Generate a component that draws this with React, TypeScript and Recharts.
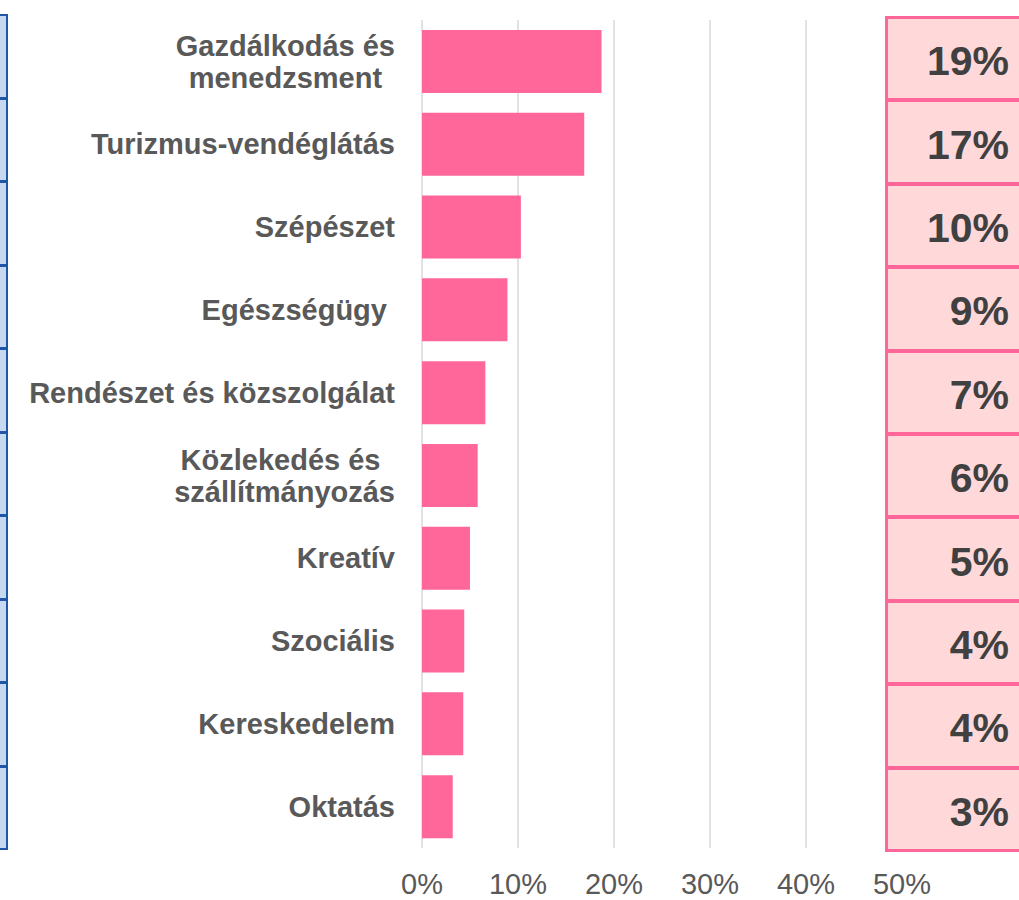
import { BarChart, Bar, XAxis, YAxis, CartesianGrid } from "recharts";

const categories = [
  "Gazdálkodás és\nmenedzsment",
  "Turizmus-vendéglátás",
  "Szépészet",
  "Egészségügy ",
  "Rendészet és közszolgálat",
  "Közlekedés és \nszállítmányozás",
  "Kreatív",
  "Szociális",
  "Kereskedelem",
  "Oktatás",
];
const shares = [0.187, 0.169, 0.103, 0.089, 0.066, 0.058, 0.05, 0.044, 0.043, 0.032];
const shareLabels = ["19%", "17%", "10%", "9%", "7%", "6%", "5%", "4%", "4%", "3%"];
const xTicks = [0, 0.1, 0.2, 0.3, 0.4, 0.5];

const chartData = categories.map((name, i) => ({ name, value: shares[i] }));

const LABEL_SIZE = 29;
const LABEL_FONT = `bold ${LABEL_SIZE}px Arial`;
let ctx: CanvasRenderingContext2D | null = null;
const measure = (s: string) => {
  if (!ctx) ctx = document.createElement("canvas").getContext("2d");
  if (!ctx) return s.length * 16;
  ctx.font = LABEL_FONT;
  return ctx.measureText(s).width;
};

const CategoryTick = ({ x, y, payload }: any) => {
  const lines: string[] = String(payload.value).split("\n");
  const maxW = Math.max(...lines.map(measure));
  const cx = x - 19 - maxW / 2;
  const lh = 32;
  const start = y - ((lines.length - 1) * lh) / 2;
  return (
    <text
      textAnchor="middle"
      fill="#595959"
      fontFamily="Arial"
      fontWeight="bold"
      fontSize={LABEL_SIZE}
      style={{ whiteSpace: "pre" }}
    >
      {lines.map((l, i) => (
        <tspan key={i} x={cx} y={start + i * lh} dy="0.35em">
          {l}
        </tspan>
      ))}
    </text>
  );
};

const PercentTick = ({ x, y, payload }: any) => (
  <text x={x} y={y} dy={38} textAnchor="middle" fill="#595959" fontFamily="Arial" fontSize={29}>
    {`${Math.round(payload.value * 100)}%`}
  </text>
);

const PLOT_TOP = 20;
const PLOT_BOTTOM = 848;

export default function App() {
  const rowH = (850 - 16) / categories.length;
  const leftRowH = (849 - 14) / categories.length;
  return (
    <div style={{ position: "absolute", left: 0, top: 0, width: 1019, height: 900, overflow: "hidden", background: "#fff" }}>
      {/* left-hand table edge */}
      {categories.map((c, i) => (
        <div
          key={"l" + c}
          style={{
            position: "absolute",
            left: -20,
            top: 14 + i * leftRowH,
            width: 28,
            height: leftRowH + 1,
            boxSizing: "border-box",
            background: "#C6D9F1",
            border: "2.5px solid #1F56A8",
          }}
        />
      ))}
      <div style={{ position: "absolute", left: 0, top: 0 }}>
        <BarChart
          width={1019}
          height={900}
          layout="vertical"
          data={chartData}
          margin={{ top: PLOT_TOP, right: 117, bottom: 0, left: 0 }}
          barCategoryGap="12%"
        >
          <CartesianGrid horizontal={false} stroke="#D9D9D9" strokeWidth={1.5} />
          <XAxis
            type="number"
            domain={[0, 0.5]}
            ticks={xTicks}
            axisLine={false}
            tickLine={false}
            tick={<PercentTick />}
            height={900 - PLOT_BOTTOM}
            interval={0}
          />
          <YAxis
            type="category"
            dataKey="name"
            width={422}
            axisLine={false}
            tickLine={false}
            tick={<CategoryTick />}
            interval={0}
          />
          <Bar dataKey="value" fill="#FF6699" isAnimationActive={false} />
        </BarChart>
      </div>
      {/* right-hand table of shares */}
      {shareLabels.map((s, i) => (
        <div
          key={"r" + i}
          style={{
            position: "absolute",
            left: 885,
            top: 16 + i * rowH,
            width: 160,
            height: rowH + 2,
            boxSizing: "border-box",
            background: "#FFD9DA",
            border: "3px solid #FF6699",
            fontFamily: "Arial",
            fontWeight: "bold",
            fontSize: 41,
            color: "#404040",
            display: "flex",
            alignItems: "center",
            justifyContent: "flex-end",
            paddingRight: 33,
            paddingTop: 6,
          }}
        >
          {s}
        </div>
      ))}
    </div>
  );
}
